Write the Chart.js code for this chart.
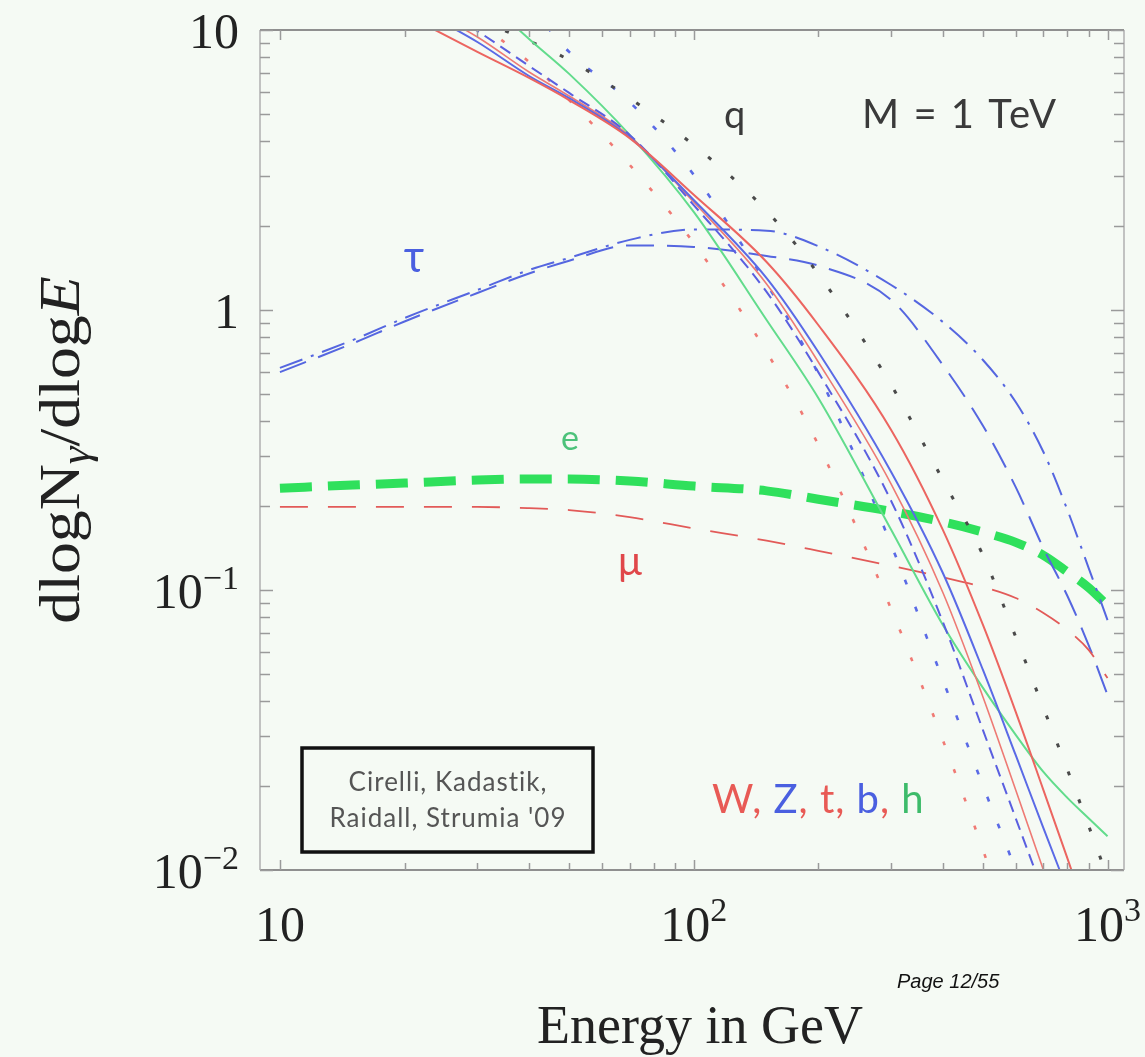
<!DOCTYPE html>
<html>
<head>
<meta charset="utf-8">
<title>dlogN/dlogE vs Energy in GeV</title>
<script src="https://cdn.jsdelivr.net/npm/chart.js@4.4.1/dist/chart.umd.min.js"></script>
<style>
  html, body { margin:0; padding:0; background:#f5faf4; }
  canvas { display:block; }
</style>
</head>
<body>
<canvas id="chart" width="1145" height="1057"></canvas>
<script>
// ---------------- data ----------------
const energyGeV = [10, 15, 20, 30, 40, 50, 70, 100, 150, 200, 300, 400, 500, 600, 700, 800, 900, 1000];

const W_red       = [null, null, 11.4, 8.35, 6.74, 5.62, 4.11, 2.58, 1.484, 0.884, 0.373, 0.164, 0.075, 0.0367, 0.0193, 0.0110, 0.00663, null];
const Z_blue      = [null, null, 12.6, 9.06, 6.85, 5.71, 4.14, 2.47, 1.30, 0.708, 0.264, 0.115, 0.0518, 0.0257, 0.0141, 0.00848, null, null];
const t_red       = [null, null, 13.1, 9.44, 7.08, 5.81, 4.18, 2.43, 1.239, 0.652, 0.239, 0.098, 0.0415, 0.0193, 0.0100, 0.0056, null, null];
const b_blue      = [null, null, 14.5, 9.92, 7.44, 5.96, 4.22, 2.37, 1.16, 0.600, 0.208, 0.0769, 0.0316, 0.0153, 0.00828, null, null, null];
const h_green     = [null, null, null, 13.7, 9.29, 6.97, 4.22, 2.24, 0.921, 0.485, 0.164, 0.075, 0.0447, 0.0304, 0.0224, 0.0181, 0.0153, 0.0132];
const q_black     = [null, null, null, 10.9, 9.14, 7.81, 5.71, 3.88, 2.26, 1.344, 0.540, 0.247, 0.133, 0.0680, 0.0379, 0.0228, 0.0144, 0.0094];
const dotted_blue = [null, null, null, null, 12.3, 8.35, 5.53, 3.04, 1.239, 0.591, 0.145, 0.0477, 0.0200, 0.0100, 0.0054, null, null, null];
const dotted_red  = [null, null, null, 10.7, 7.69, 5.62, 3.30, 1.735, 0.708, 0.330, 0.0855, 0.0291, 0.0118, 0.00535, null, null, null, null];
const e_green     = [0.231, 0.237, 0.241, 0.247, 0.249, 0.249, 0.245, 0.235, 0.226, 0.211, 0.191, 0.175, 0.161, 0.148, 0.133, 0.116, 0.102, 0.088];
const mu_red      = [0.198, 0.198, 0.198, 0.198, 0.196, 0.193, 0.182, 0.166, 0.150, 0.138, 0.122, 0.111, 0.1025, 0.0936, 0.0828, 0.0720, 0.0611, 0.0485];
const tau_dashdot = [0.621, 0.781, 0.936, 1.179, 1.389, 1.535, 1.78, 1.94, 1.92, 1.69, 1.228, 0.906, 0.663, 0.469, 0.311, 0.193, 0.120, 0.0781];
const tau_dashed  = [0.60, 0.76, 0.91, 1.15, 1.35, 1.50, 1.70, 1.68, 1.56, 1.44, 1.086, 0.636, 0.386, 0.233, 0.141, 0.0952, 0.0636, 0.0422];

// axis tick labels
const xTickValues = [10, 100, 1000];
const xTickBase   = ['10', '10', '10'];
const xTickExp    = ['', '2', '3'];
const yTickValues = [10, 1, 0.1, 0.01];
const yTickBase   = ['10', '1', '10', '10'];
const yTickExp    = ['', '', '\u22121', '\u22122'];

// ---------------- styling ----------------
const BG = '#f5faf4';
const SERIF = '"Liberation Serif", "DejaVu Serif", serif';
const SANS = 'Lato, "DejaVu Sans", sans-serif';

function ds(data, color, width, dash, extra) {
  return Object.assign({
    data: data, borderColor: color, borderWidth: width, borderDash: dash,
    pointRadius: 0, fill: false, cubicInterpolationMode: 'monotone', spanGaps: false, clip: 0
  }, extra || {});
}

const datasets = [
  ds(W_red,       '#ec6560', 2.0, []),
  ds(Z_blue,      '#5a6ae6', 2.0, []),
  ds(b_blue,      '#5a5fe0', 2.0, [12, 7]),
  ds(t_red,       '#ee7a74', 1.6, []),
  ds(h_green,     '#62dc8c', 2.0, []),
  ds(q_black,     '#4a4a4a', 3.0, [4, 26]),
  ds(dotted_blue, '#5a6ae6', 2.6, [5, 24]),
  ds(dotted_red,  '#f07a74', 2.6, [4, 26]),
  ds(mu_red,      '#e25a58', 1.8, [28, 20]),
  ds(tau_dashdot, '#5566e0', 2.0, [24, 9, 3, 9]),
  ds(tau_dashed,  '#5566e0', 2.0, [28, 13]),
  ds(e_green,     '#2fe05c', 9.0, [32, 16], {borderCapStyle: 'butt'})
];

// ---------------- drawing helpers ----------------
function drawParts(ctx, x, y, parts) {
  let cx = x;
  for (const p of parts) {
    ctx.font = p.font;
    ctx.fillStyle = p.color;
    ctx.fillText(p.text, cx, y + (p.dy || 0));
    cx += ctx.measureText(p.text).width + (p.gap || 0);
  }
  return cx;
}
function partsWidth(ctx, parts) {
  let w = 0;
  for (const p of parts) { ctx.font = p.font; w += ctx.measureText(p.text).width + (p.gap || 0); }
  return w;
}

const figurePlugin = {
  id: 'figure',
  beforeDraw(chart) {
    const c = chart.ctx;
    c.save();
    c.fillStyle = BG;
    c.fillRect(0, 0, chart.width, chart.height);
    c.restore();
  },
  afterDraw(chart) {
    const c = chart.ctx;
    const a = chart.chartArea;
    const xs = chart.scales.x, ys = chart.scales.y;
    c.save();

    // frame
    c.strokeStyle = '#8f8f8f';
    c.lineWidth = 2;
    c.beginPath();
    c.moveTo(a.left, a.top); c.lineTo(a.right, a.top);
    c.moveTo(a.left, a.bottom); c.lineTo(a.right, a.bottom);
    c.stroke();
    c.strokeStyle = '#b0b0b0';
    c.lineWidth = 1.5;
    c.beginPath();
    c.moveTo(a.left, a.top); c.lineTo(a.left, a.bottom);
    c.moveTo(a.right, a.top); c.lineTo(a.right, a.bottom);
    c.stroke();

    // ticks (inward)
    c.strokeStyle = '#9a9a9a';
    c.lineWidth = 1.5;
    c.beginPath();
    for (let d = -2; d <= 1; d++) {
      for (let m = 1; m <= 9; m++) {
        const v = m * Math.pow(10, d);
        if (v < ys.min - 1e-12 || v > ys.max + 1e-9) continue;
        const py = Math.round(ys.getPixelForValue(v)) + 0.5;
        const len = m === 1 ? 13 : 10;
        c.moveTo(a.left, py); c.lineTo(a.left + len, py);
        c.moveTo(a.right, py); c.lineTo(a.right - len, py);
      }
    }
    for (let d = 1; d <= 3; d++) {
      for (let m = 1; m <= 9; m++) {
        const v = m * Math.pow(10, d);
        if (v < 10 || v > xs.max) continue;
        const px = Math.round(xs.getPixelForValue(v)) + 0.5;
        const len = m === 1 ? 10 : 7;
        c.moveTo(px, a.bottom); c.lineTo(px, a.bottom - len);
        c.moveTo(px, a.top); c.lineTo(px, a.top + len);
      }
    }
    c.stroke();

    // tick labels
    c.textBaseline = 'alphabetic';
    c.textAlign = 'left';
    const baseFont = '50px ' + SERIF, expFont = '34px ' + SERIF;
    for (let i = 0; i < yTickValues.length; i++) {
      const py = ys.getPixelForValue(yTickValues[i]);
      const parts = [{text: yTickBase[i], font: baseFont, color: '#222'},
                     {text: yTickExp[i], font: expFont, color: '#222', dy: -19}];
      const w = partsWidth(c, parts);
      drawParts(c, 239 - w, py + 18, parts);
    }
    for (let i = 0; i < xTickValues.length; i++) {
      const px = xs.getPixelForValue(xTickValues[i]);
      const parts = [{text: xTickBase[i], font: baseFont, color: '#222'},
                     {text: xTickExp[i], font: expFont, color: '#222', dy: -20}];
      const w = partsWidth(c, parts);
      drawParts(c, px - w / 2, 941, parts);
    }

    // axis titles
    c.font = '54px ' + SERIF;
    c.fillStyle = '#222';
    c.textAlign = 'center';
    c.fillText('Energy in GeV', 700, 1043);
    c.textAlign = 'left';

    c.save();
    c.translate(62, 450);
    c.rotate(-Math.PI / 2);
    c.scale(1.12, 1);
    const yParts = [
      {text: 'dlogN', font: '57px ' + SERIF, color: '#222'},
      {text: '\u03B3', font: 'italic 40px ' + SERIF, color: '#222', dy: 10},
      {text: '/dlog', font: '57px ' + SERIF, color: '#222'},
      {text: 'E', font: 'italic 57px ' + SERIF, color: '#222'}
    ];
    const yw = partsWidth(c, yParts);
    drawParts(c, -yw / 2, 17, yParts);
    c.restore();

    // annotations
    c.textAlign = 'left';
    c.letterSpacing = '2px';
    c.font = '40px ' + SANS; c.fillStyle = '#3a3a3a';
    c.fillText('M = 1 TeV', 862, 128);
    c.letterSpacing = '0px';
    c.font = '38px ' + SANS;
    c.fillText('q', 724, 128);
    c.font = '44px ' + SANS; c.fillStyle = '#4a5fe0';
    c.textAlign = 'center';
    c.fillText('\u03C4', 414, 272);
    c.font = '34px ' + SANS; c.fillStyle = '#4cc27a';
    c.fillText('e', 570, 450);
    c.font = '40px ' + SANS; c.fillStyle = '#e0474a';
    c.fillText('\u03BC', 630, 575);
    c.textAlign = 'left';
    const red = '#e85a55', blue = '#4a5fe0', green = '#3dbb6a';
    const f = '40px ' + SANS;
    c.letterSpacing = '1px';
    drawParts(c, 712, 813, [
      {text: 'W, ', font: f, color: red},
      {text: 'Z', font: f, color: blue},
      {text: ', ', font: f, color: red},
      {text: 't, ', font: f, color: red},
      {text: 'b', font: f, color: blue},
      {text: ', ', font: f, color: red},
      {text: 'h', font: f, color: green}
    ]);

    // citation box
    c.letterSpacing = '0px';
    c.strokeStyle = '#111';
    c.lineWidth = 3.5;
    c.strokeRect(302, 748, 291, 104);
    c.letterSpacing = '1px';
    c.font = '26px ' + SANS; c.fillStyle = '#555';
    c.textAlign = 'center';
    c.fillText('Cirelli, Kadastik,', 448, 791);
    c.fillText("Raidall, Strumia '09", 448, 827);
    c.letterSpacing = '0px';

    // page footer
    c.font = 'italic 20px "Liberation Sans", Arial, sans-serif';
    c.fillStyle = '#111';
    c.textAlign = 'left';
    c.fillText('Page 12/55', 897, 988);

    c.restore();
  }
};

const chart = new Chart(document.getElementById('chart'), {
  type: 'line',
  data: { labels: energyGeV, datasets: datasets.map(d => Object.assign(d, {data: d.data.map((v, i) => ({x: energyGeV[i], y: v}))})) },
  options: {
    responsive: false,
    animation: false,
    devicePixelRatio: 1,
    layout: { padding: { top: 30, right: 21, left: 0, bottom: 0 } },
    plugins: { legend: { display: false }, tooltip: { enabled: false } },
    scales: {
      x: {
        type: 'logarithmic', min: 8.95, max: 1096,
        grid: { display: false }, border: { display: false },
        ticks: { display: false },
        afterFit(s) { s.height = 187; }
      },
      y: {
        type: 'logarithmic', min: 0.01, max: 10,
        grid: { display: false }, border: { display: false },
        ticks: { display: false },
        afterFit(s) { s.width = 260; }
      }
    }
  },
  plugins: [figurePlugin]
});
if (document.fonts && document.fonts.ready) document.fonts.ready.then(() => chart.draw());
</script>
</body>
</html>
